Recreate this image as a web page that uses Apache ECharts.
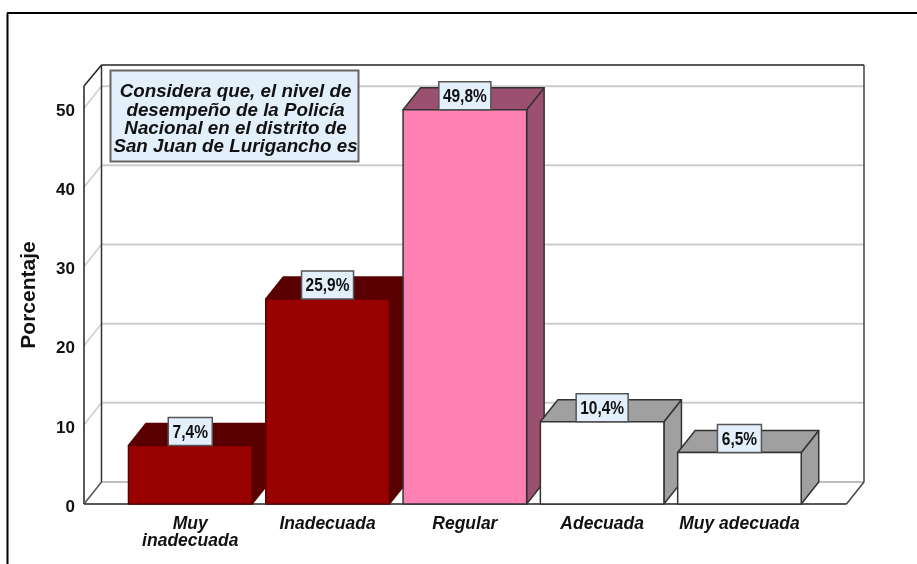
<!DOCTYPE html>
<html><head><meta charset="utf-8">
<style>html,body{margin:0;padding:0;background:#fff}#c{width:917px;height:564px}</style>
<script src="https://cdn.jsdelivr.net/npm/echarts@6/dist/echarts.min.js"></script>
</head><body><div id="c"></div>
<script>
const categories = ['Muy\ninadecuada','Inadecuada','Regular','Adecuada','Muy adecuada'];
const values = [7.4,25.9,49.8,10.4,6.5];
const valueLabels = ['7,4%','25,9%','49,8%','10,4%','6,5%'];
const frontColors = ['#990000','#990000','#ff80b3','#ffffff','#ffffff'];
const depthColors = ['#5a0000','#5a0000','#9c5070','#a0a0a0','#a0a0a0'];
const edgeColors = ['#5a0000','#5a0000','#333333','#333333','#333333'];
const yTicks = [0,10,20,30,40,50];
const noteLines = 'Considera que, el nivel de\ndesempeño de la Policía\nNacional en el distrito de\nSan Juan de Lurigancho es';

const DX = 17.5, DY = 22, PADL = 37.6, PADR = 55.9;
const chart = echarts.init(document.getElementById('c'));

function line(x1,y1,x2,y2,stroke,w){
  return {type:'line',shape:{x1,y1,x2,y2},style:{stroke,lineWidth:w,fill:null}};
}
function renderFrame(params, api){
  const cs = params.coordSys;
  const L = cs.x-PADL, R = cs.x+cs.width+PADR, T = cs.y, B = cs.y+cs.height;
  const kids = [];
  yTicks.forEach(v=>{
    if(v===0) return;
    const y = api.coord([0,v])[1];
    kids.push(line(L,y,L+DX,y-DY,'#cccccc',1.5));
    kids.push(line(L+DX,y-DY,R,y-DY,'#cccccc',2));
  });
  kids.push(line(L+DX,B-DY,R,B-DY,'#aaaaaa',1.5));
  kids.push(line(L+DX,T-DY+1,L+DX,B-DY,'#333333',1.5));
  kids.push(line(R,T-DY+1,R,B-DY,'#444444',1.5));
  kids.push(line(L+DX,T-DY+1,R,T-DY+1,'#222222',1.5));
  kids.push(line(L,T,L+DX,T-DY+1,'#222222',1.5));
  kids.push(line(L,T,L,B,'#222222',1.5));
  kids.push(line(L,B,L+DX,B-DY,'#555555',1.5));
  kids.push(line(R-DX,B,R,B-DY,'#444444',1.5));
  kids.push(line(L,B,R-DX,B,'#222222',1.5));
  return {type:'group',children:kids};
}
function renderBar(params, api){
  const i = api.value(0), v = api.value(1);
  const c = api.coord([i,v]), b = api.coord([i,0]);
  const w = api.size([1,0])[0]*0.9;
  const x0 = c[0]-w/2, x1 = c[0]+w/2, yT = c[1], yB = b[1];
  const edge = {stroke:edgeColors[i],lineWidth:1.5,lineJoin:'round'};
  const txt = valueLabels[i];
  const bw = txt.length>4 ? 52 : 44, bh = 28;
  return {type:'group',children:[
    {type:'polygon',shape:{points:[[x1,yB],[x1+DX,yB-DY],[x1+DX,yT-DY],[x1,yT]]},style:{fill:depthColors[i],...edge}},
    {type:'polygon',shape:{points:[[x0,yT],[x0+DX,yT-DY],[x1+DX,yT-DY],[x1,yT]]},style:{fill:depthColors[i],...edge}},
    {type:'rect',shape:{x:x0,y:yT,width:w,height:yB-yT},style:{fill:frontColors[i],...edge}},
    {type:'rect',shape:{x:c[0]-bw/2,y:yT-bh,width:bw,height:bh},style:{fill:'#e3effb',stroke:'#555555',lineWidth:1.5}},
    {type:'text',x:c[0],y:yT-bh/2+1.5,scaleX:0.86,style:{x:0,y:0,text:txt,align:'center',verticalAlign:'middle',
      font:'bold 18px "Liberation Sans",sans-serif',fill:'#111111'}}
  ]};
}

chart.setOption({
  animation:false,
  backgroundColor:'#ffffff',
  grid:{left:121.6,width:686.5,top:86,height:418},
  xAxis:{type:'category',data:categories,boundaryGap:true,
    axisLine:{show:false},axisTick:{show:false},splitLine:{show:false},
    axisLabel:{margin:11,interval:0,fontFamily:'"Liberation Sans",sans-serif',fontSize:17.5,fontWeight:'bold',fontStyle:'italic',color:'#111111',lineHeight:17.5}},
  yAxis:{type:'value',min:0,max:52.8,interval:10,offset:PADL,
    name:'Porcentaje',nameLocation:'middle',nameGap:44,nameRotate:90,nameMoveOverlap:false,
    nameTextStyle:{fontFamily:'"Liberation Sans",sans-serif',fontSize:21,fontWeight:'bold',color:'#111111'},
    axisLine:{show:false},axisTick:{show:false},splitLine:{show:false},
    axisLabel:{margin:9,showMaxLabel:false,verticalAlign:'top',lineHeight:6,fontFamily:'"Liberation Sans",sans-serif',fontSize:17,fontWeight:'bold',color:'#111111'}},
  series:[
    {type:'custom',coordinateSystem:'cartesian2d',clip:false,z:1,silent:true,data:[[0,0]],encode:{x:0,y:1},renderItem:renderFrame},
    {type:'custom',coordinateSystem:'cartesian2d',clip:false,z:2,silent:true,
      data:values.map((v,i)=>[i,v]),encode:{x:0,y:1},renderItem:renderBar}
  ],
  graphic:[
    {type:'line',z:20,shape:{x1:7,y1:13,x2:917,y2:13},style:{stroke:'#000000',lineWidth:2}},
    {type:'line',z:20,shape:{x1:7.5,y1:13,x2:7.5,y2:564},style:{stroke:'#000000',lineWidth:2}},
    {type:'rect',z:20,shape:{x:110.5,y:70.5,width:248,height:91},style:{fill:'#e3effb',stroke:'#666666',lineWidth:2}},
    {type:'text',z:21,style:{x:235.5,y:119.5,text:noteLines,align:'center',verticalAlign:'middle',lineHeight:18.3,
      font:'italic bold 18.8px "Liberation Sans",sans-serif',fill:'#111111'}}
  ]
});
</script></body></html>
